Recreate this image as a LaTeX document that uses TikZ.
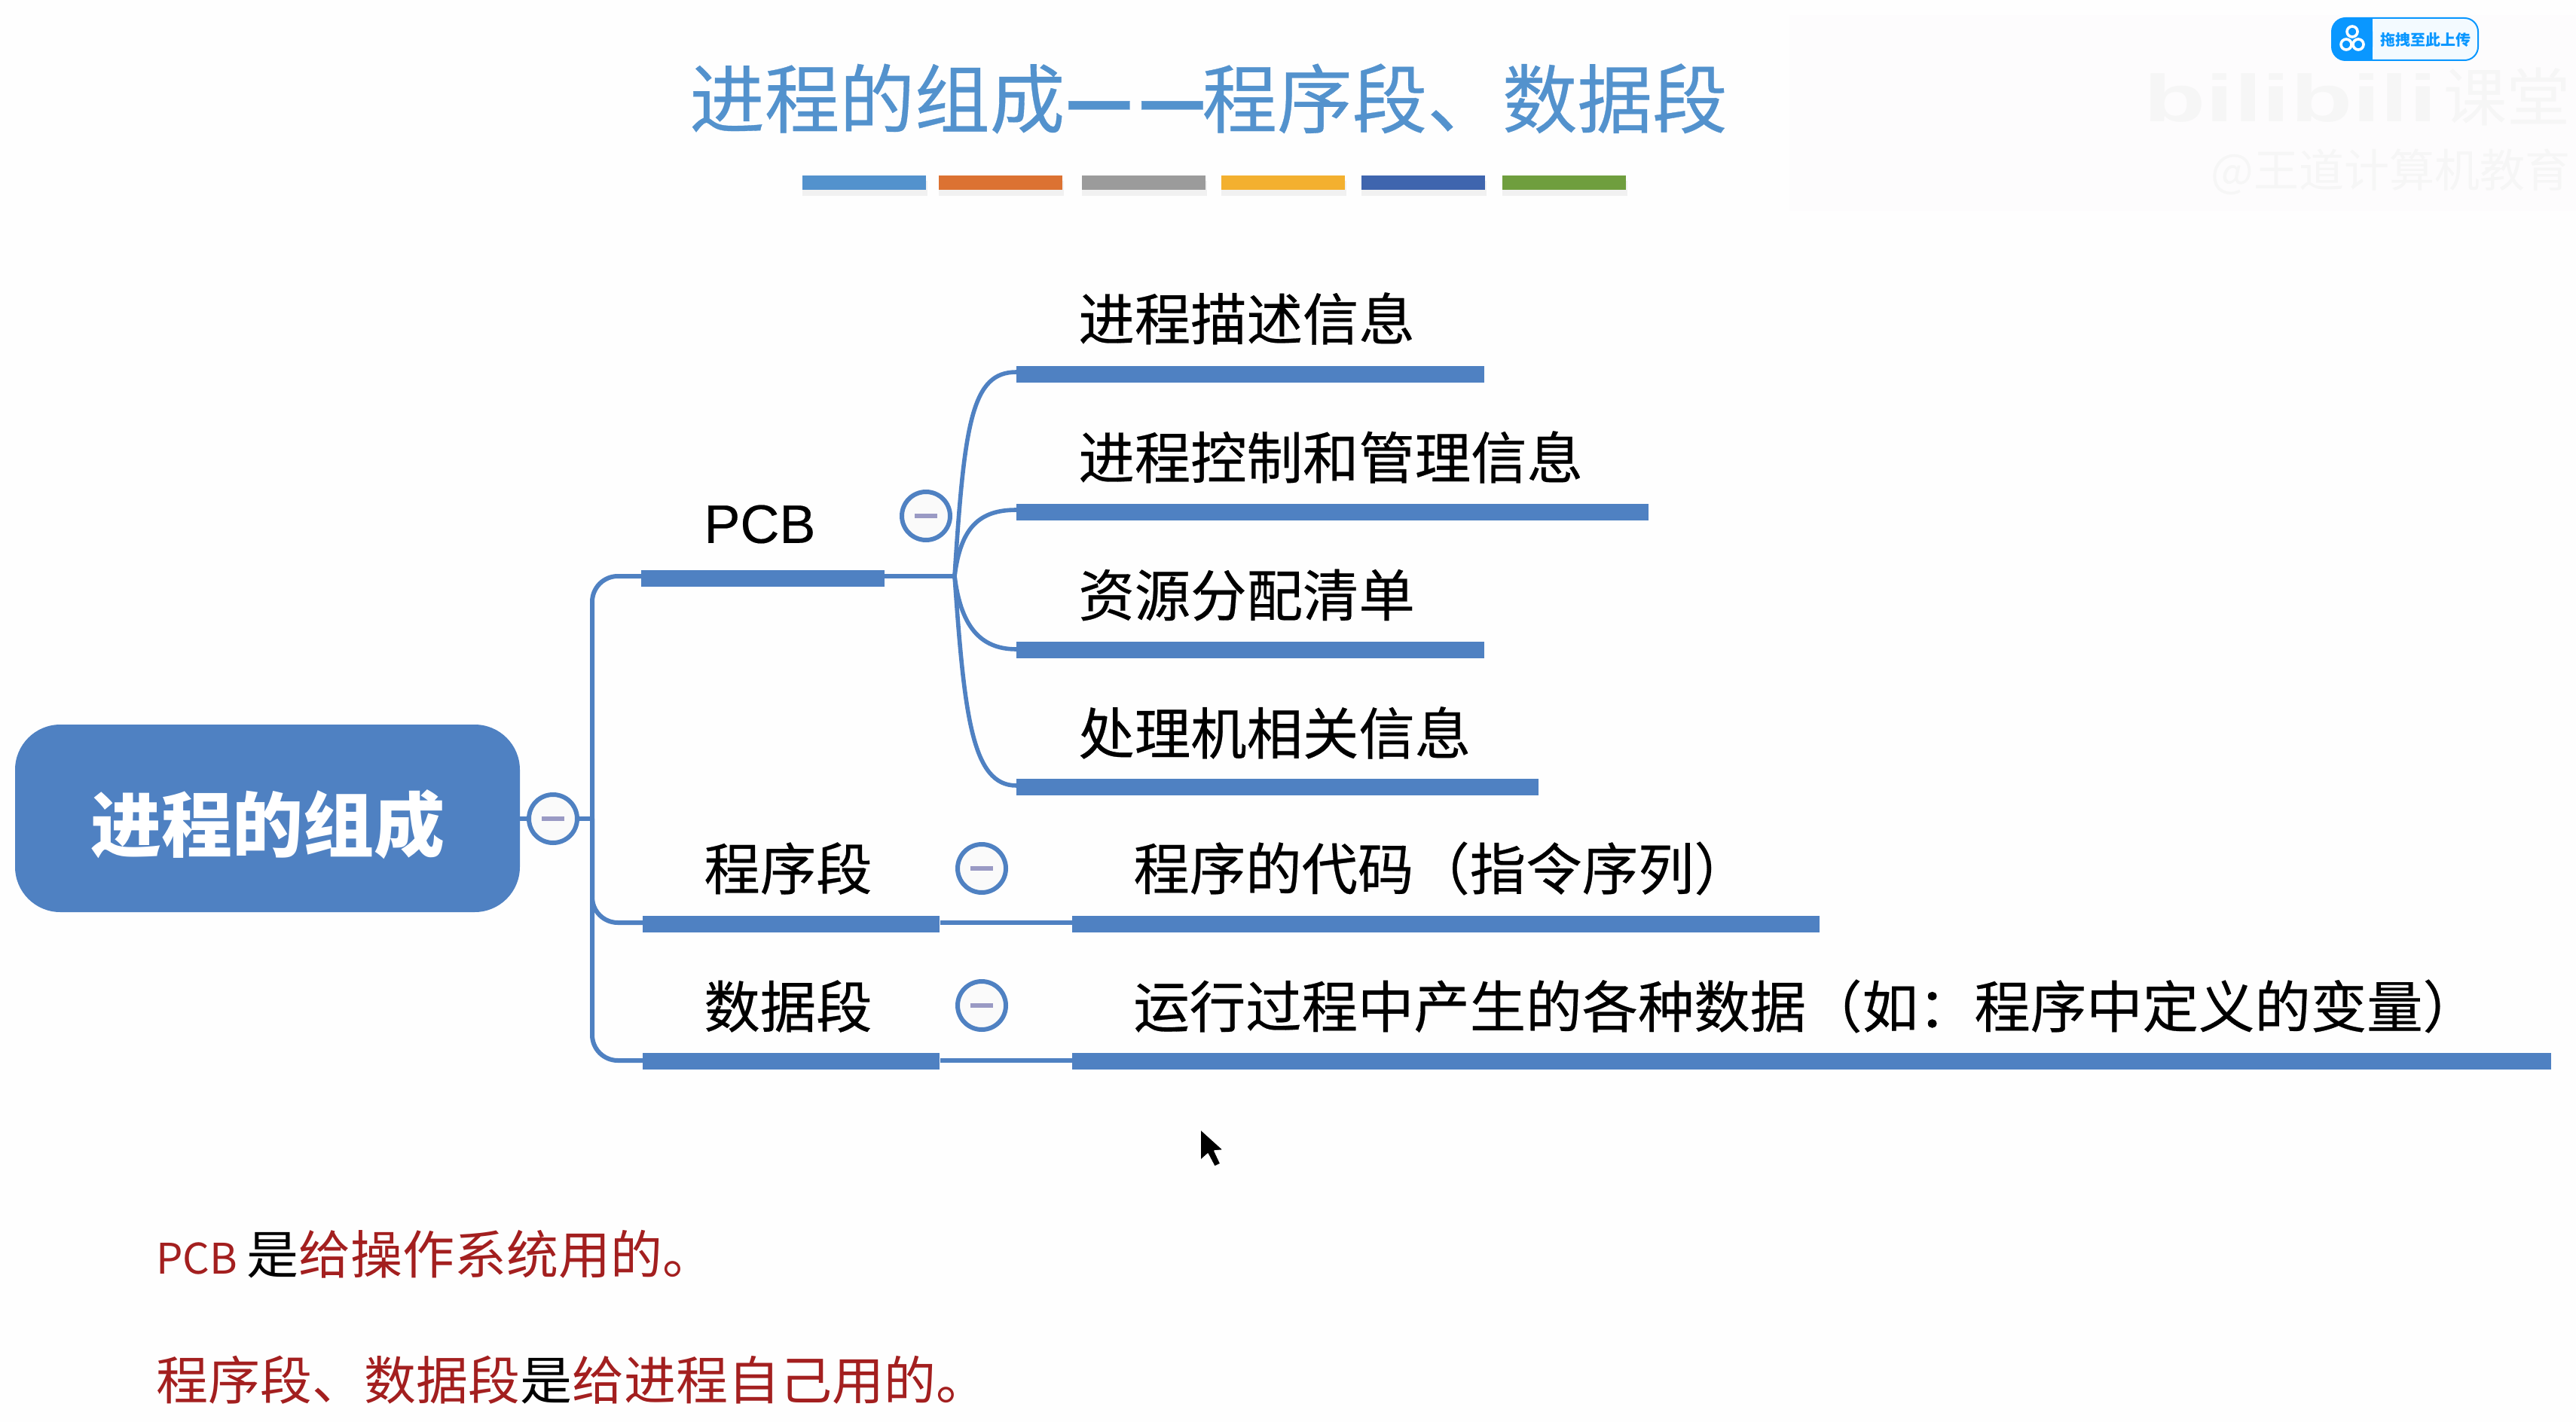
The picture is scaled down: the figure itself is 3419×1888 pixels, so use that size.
\documentclass[tikz,border=0pt]{standalone}
\usepackage{fontspec}
\setmainfont{Noto Sans CJK SC}
\newfontfamily\latinf{Liberation Sans}
\newfontfamily\medf[FakeBold=0.35]{Noto Sans CJK SC}
\newfontfamily\latinmed[FakeBold=0.3]{Liberation Sans}
\usetikzlibrary{calc}
\definecolor{mapblue}{HTML}{4F81C2}
\definecolor{titleblue}{HTML}{5392CD}
\definecolor{noteRed}{HTML}{A31F1F}
\definecolor{btnblue}{HTML}{0A97FF}
\definecolor{wm}{HTML}{F6F6F6}
\definecolor{minus}{HTML}{9A9AC4}
\tikzset{
  x=0.5pt,y=-0.5pt,
  link/.style={draw=mapblue,line width=3pt,line cap=round},
  twig/.style={draw=mapblue,line width=2.8pt},
  hbar/.style={fill=mapblue,inner sep=0pt,minimum height=11pt,anchor=west},
  deco/.style={inner sep=0pt,minimum height=9.5pt,minimum width=82pt,anchor=north west},
  shade/.style={fill=black,opacity=0.05,inner sep=0pt,minimum height=10pt,minimum width=83pt,anchor=north west},
  fold/.style={circle,draw=mapblue,line width=3pt,fill=white!96!gray,inner sep=0pt,minimum size=32pt,
     path picture={\draw[color=minus,line width=3pt] ($(path picture bounding box.center)+(-7.5pt,0)$) -- ($(path picture bounding box.center)+(7.5pt,0)$);}},
  label/.style={anchor=west,inner sep=0pt,font=\medf\fontsize{37.2pt}{40pt}\selectfont,text=black},
  note/.style={anchor=west,inner sep=0pt,font=\fontsize{34.5pt}{38pt}\selectfont,text=black},
}
\begin{document}
\begin{tikzpicture}
\useasboundingbox (0,0) rectangle (3419,1888);
\fill[white!99.5!black] (0,0) rectangle (3419,1888);

% faint recording overlay
\fill[white!98.8!violet] (2375,20) rectangle (3419,280);
\node[inner sep=0pt,anchor=west,text=wm,xscale=1.53,font=\latinf\bfseries\fontsize{44pt}{44pt}\selectfont] (wm1) at (2845,130) {bilibili};
\node[inner sep=0pt,anchor=east,text=wm,font=\fontsize{42pt}{42pt}\selectfont] (wm2) at (3412,128) {课堂};
\node[inner sep=0pt,anchor=east,text=wm,font=\fontsize{30pt}{30pt}\selectfont] (wm3) at (3412,228) {@王道计算机教育};

% title
\node[inner sep=0pt,text=titleblue,font=\medf\fontsize{49.8pt}{52pt}\selectfont] (title) at (1604,131) {进程的组成{\bfseries —\kern3pt—}\kern-3pt 程序段、数据段};

% colour strip
\foreach \n/\xa/\c in {a/1065/5392CD,b/1246/DC7232,c/1436/9B9B9B,d/1621/F3B02F,e/1807/3F65AE,f/1994/6F9E3E}{
  \definecolor{tmp}{HTML}{\c}
  \node[shade] (s\n) at (\xa,240) {};
  \node[deco,fill=tmp] (d\n) at (\xa,233) {};
}

% root
\node[fill=mapblue,rounded corners=30pt,inner sep=0pt,minimum width=335pt,minimum height=124.5pt,
      text=white,font=\bfseries\fontsize{47pt}{50pt}\selectfont] (root) at (355,1086.5) {\raisebox{-22pt}[0pt][0pt]{进程的组成}};

% bars
\node[hbar,minimum width=161.5pt] (pcb)  at (851,767.5) {};
\node[hbar,minimum width=197pt]   (prg)  at (853,1227) {};
\node[hbar,minimum width=197pt]   (dat)  at (853,1409) {};
\node[hbar,minimum width=310.5pt] (c1) at (1349,497) {};
\node[hbar,minimum width=419.5pt] (c2) at (1349,680) {};
\node[hbar,minimum width=310.5pt] (c3) at (1349,863) {};
\node[hbar,minimum width=346.5pt] (c4) at (1349,1045) {};
\node[hbar,minimum width=496pt]   (c5) at (1423,1227) {};
\node[hbar,minimum width=981.5pt] (c6) at (1423,1409) {};

% connector points
\coordinate (trunk) at (786,1087);
\coordinate (pcbin) at (851,765);
\coordinate (prgin) at (853,1225);
\coordinate (datin) at (853,1408);
\coordinate (pcbout) at (1174,765);
\coordinate (junc) at (1267,765);
\coordinate (c1in) at (1349,494);
\coordinate (c2in) at (1349,677);
\coordinate (c3in) at (1349,862);
\coordinate (c4in) at (1349,1043);

% connectors
\draw[link] (root.east |- trunk) -- (trunk);
\draw[link,rounded corners=17pt,line cap=butt] (trunk) |- (pcbin);
\draw[link,rounded corners=17pt,line cap=butt] (trunk) |- (prgin);
\draw[link,rounded corners=17pt,line cap=butt] (trunk) |- (datin);
\draw[link] (pcbout) -- (junc);
\draw[twig] (junc) .. controls (1280,560) and (1290,494) .. (c1in);
\draw[twig] (junc) .. controls (1275,700) and (1300,677) .. (c2in);
\draw[twig] (junc) .. controls (1275,830) and (1300,862) .. (c3in);
\draw[twig] (junc) .. controls (1280,950) and (1290,1043) .. (c4in);
\draw[link,line cap=butt] (prg.east |- prgin) -- (c5.west |- prgin);
\draw[link,line cap=butt] (dat.east |- datin) -- (c6.west |- datin);

% fold markers
\node[fold] (f0) at (734,1087) {};
\node[fold] (f1) at (1229,685) {};
\node[fold] (f2) at (1303,1153) {};
\node[fold] (f3) at (1303,1335) {};

% labels
\node[label,font=\latinmed\fontsize{36pt}{38pt}\selectfont] (tp) at (934,696) {PCB};
\node[label] (t1) at (1431,423) {进程描述信息};
\node[label] (t2) at (1431,607) {进程控制和管理信息};
\node[label] (t3) at (1431,790) {资源分配清单};
\node[label] (t4) at (1431,973) {处理机相关信息};
\node[label] (tq) at (934,1153) {程序段};
\node[label] (td) at (934,1336) {数据段};
\node[label] (t5) at (1504,1153) {程序的代码（指令序列）};
\node[label] (t6) at (1504,1336) {运行过程中产生的各种数据（如：程序中定义的变量）};

% notes
\node[note] (n1) at (207,1665) {\textcolor{noteRed}{\fontsize{28pt}{32pt}\selectfont PCB}\kern6pt 是\textcolor{noteRed}{给操作系统用的。}};
\node[note] (n2) at (207,1832) {\textcolor{noteRed}{程序段、数据段}是\textcolor{noteRed}{给进程自己用的。}};

% upload button
\fill[fill=white!95!btnblue,draw=btnblue,line width=1pt,rounded corners=9pt] (3095,24) rectangle (3289,80);
\fill[btnblue,rounded corners=9pt] (3095,24) rectangle (3149,80);
\fill[btnblue] (3130,24) rectangle (3149,80);
\draw[white,line width=1.8pt] (3122,42) circle (7) (3114,59) circle (7) (3130,59) circle (7);
\node[inner sep=0pt,text=btnblue,font=\bfseries\fontsize{10pt}{11pt}\selectfont] (btn) at (3219,53) {拖拽至此上传};

% mouse pointer
\fill[black,draw=white,line width=0.8pt,line join=round] (1593,1499) -- (1593,1541) -- (1603,1532) -- (1612,1549) -- (1620,1545) -- (1612,1528) -- (1624,1527) -- cycle;
\end{tikzpicture}
\end{document}
